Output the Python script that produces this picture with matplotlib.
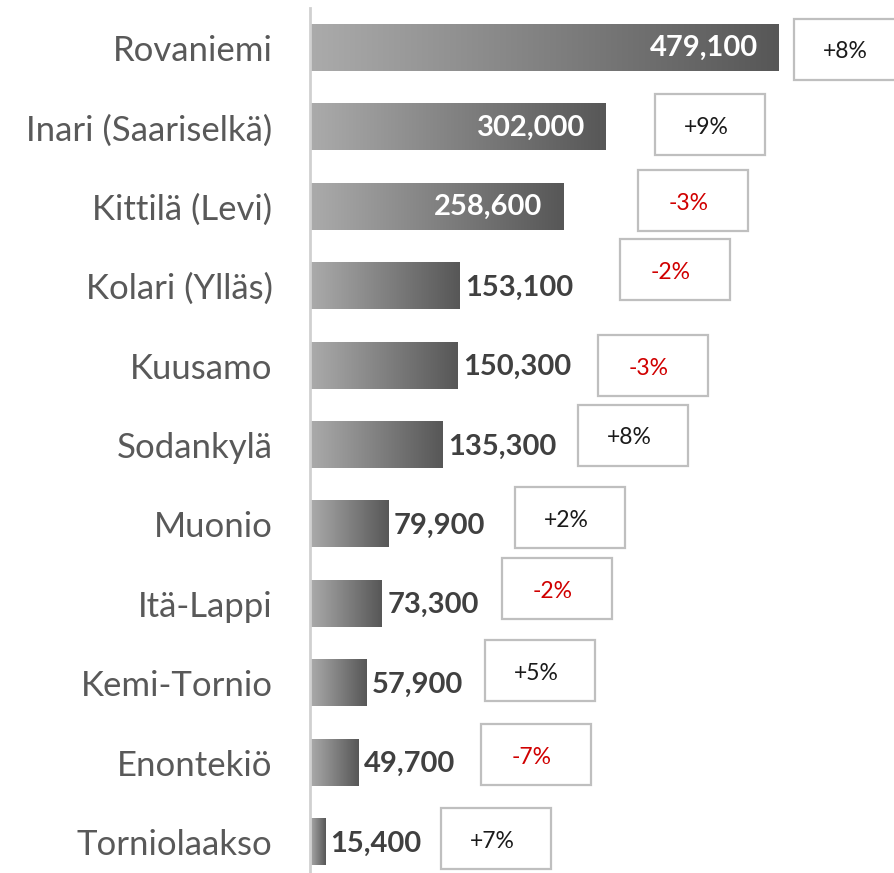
import matplotlib
matplotlib.use("Agg")
import matplotlib.pyplot as plt
import numpy as np
from matplotlib.colors import LinearSegmentedColormap
from matplotlib.patches import Rectangle

regions = ["Rovaniemi", "Inari (Saariselkä)", "Kittilä (Levi)", "Kolari (Ylläs)",
           "Kuusamo", "Sodankylä", "Muonio", "Itä-Lappi", "Kemi-Tornio",
           "Enontekiö", "Torniolaakso"]
nights = [479100, 302000, 258600, 153100, 150300, 135300, 79900, 73300, 57900, 49700, 15400]
changes = ["+8%", "+9%", "-3%", "-2%", "-3%", "+8%", "+2%", "-2%", "+5%", "-7%", "+7%"]

# box placement (pixels): left edge, and vertical offset from bar centre
box_left = [794, 655, 638, 620, 598, 578, 515, 502, 485, 481, 441]
box_dy = [1, -2.5, -6, -17, 0, -10, -6.5, -15.5, -12.5, -8, -3.5]

W, H = 895, 873
fig = plt.figure(figsize=(W / 100, H / 100), dpi=100)
FONT = ["Lato", "DejaVu Sans"]

x0_px, x1_px = 310, 779
scale = (x1_px - x0_px) / nights[0]
xmax = (W - x0_px) / scale
c0, step = 48, 79.4
ytop = -(c0 - 8) / step
ybot = (H - c0) / step

ax = fig.add_axes([x0_px / W, 0, 1 - x0_px / W, (H - 8) / H])
cmap = LinearSegmentedColormap.from_list("g", ["#ababab", "#575757"])
grad = np.linspace(0, 1, 256).reshape(1, -1)
bh = 0.58
for i, v in enumerate(nights):
    ax.imshow(grad, cmap=cmap, aspect="auto", extent=(0, v, i + bh / 2, i - bh / 2),
              interpolation="bilinear", zorder=2)
ax.set_xlim(0, xmax)
ax.set_ylim(ybot, ytop)
ax.set_aspect("auto")

for s in ["top", "right", "bottom"]:
    ax.spines[s].set_visible(False)
ax.spines["left"].set_color("#d0d0d0")
ax.spines["left"].set_linewidth(2)
ax.set_xticks([])
ax.set_yticks(range(len(regions)))
ax.set_yticklabels(regions, fontsize=25, color="#595959", family=FONT)
ax.tick_params(axis="y", length=0, pad=27)

for i, v in enumerate(nights):
    lab = f"{v:,}"
    if i < 3:
        ax.annotate(lab, (v, i), xytext=(-15, 0), textcoords="offset points",
                    ha="right", va="center", color="white", fontsize=21,
                    fontweight="bold", family=FONT, zorder=3)
    else:
        ax.annotate(lab, (v, i), xytext=(4, -1), textcoords="offset points",
                    ha="left", va="center", color="#404040", fontsize=21,
                    fontweight="bold", family=FONT, zorder=3)

bw, bhp = 110, 61
for i, (ch, bl, dy) in enumerate(zip(changes, box_left, box_dy)):
    cy = c0 + step * i + dy
    rect = Rectangle((bl / W, 1 - (cy + bhp / 2) / H), bw / W, bhp / H,
                     transform=fig.transFigure, facecolor="white",
                     edgecolor="#bfbfbf", linewidth=1.6)
    fig.add_artist(rect)
    col = "#d00000" if ch.startswith("-") else "#1a1a1a"
    fig.text((bl + bw / 2 - 4) / W, 1 - (cy + 3) / H, ch, ha="center", va="center",
             fontsize=16.5, color=col, family=FONT)

fig.savefig("out.png", dpi=100)
